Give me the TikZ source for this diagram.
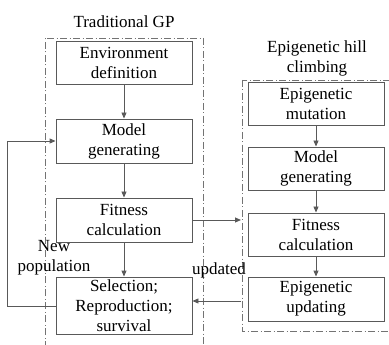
\documentclass[tikz,border=0pt]{standalone}
\usepackage{fontspec}
\setmainfont{Liberation Serif}
\usetikzlibrary{arrows.meta}
\begin{document}
\begin{tikzpicture}[x=1pt,y=-1pt,
  box/.style={draw=black!65,line width=0.9pt,minimum width=136pt,inner sep=0pt,align=center,font=\fontsize{17}{20}\selectfont},
  lbl/.style={align=center,inner sep=0pt,font=\fontsize{17}{20}\selectfont},
  frame/.style={draw=black!55,line width=0.7pt,dash pattern=on 7pt off 2.5pt on 1pt off 2.5pt},
  conn/.style={draw=black!65,line width=0.9pt,-{Triangle[length=6pt,width=5pt]}}]
\useasboundingbox (0,0) rectangle (389,345);
\draw[frame] (45,348) -- (45,38) -- (203,38) -- (203,348);
\draw[frame] (242,80) rectangle (390,331);
\node[box,minimum height=43pt] (env) at (124,62.5) {Environment\\definition};
\node[box,minimum height=44pt] (mod1) at (124,141) {Model\\generating};
\node[box,minimum height=44pt] (fit1) at (124,220) {Fitness\\calculation};
\node[box,minimum height=57pt] (sel) at (124,305.5) {Selection;\\Reproduction;\\survival};
\node[box,minimum height=43pt] (mut) at (316,103.5) {Epigenetic\\mutation};
\node[box,minimum height=43pt] (mod2) at (316,168.5) {Model\\generating};
\node[box,minimum height=43pt] (fit2) at (316,234.5) {Fitness\\calculation};
\node[box,minimum height=44pt] (upd) at (316,299) {Epigenetic\\updating};
\node[lbl] (t1) at (124,22) {Traditional GP};
\node[lbl] (t2) at (317,58) {Epigenetic hill\\climbing};
\node[lbl] (np) at (54,258) {New\\population};
\node[lbl] (ud) at (219,270) {updated};
\coordinate (fl) at (7,306);
\coordinate (fr) at (241,220);
\coordinate (ur) at (241,301);
\draw[conn] (env) -- (mod1);
\draw[conn] (mod1) -- (fit1);
\draw[conn] (fit1) -- (sel);
\draw[conn] (mut) -- (mod2);
\draw[conn] (mod2) -- (fit2);
\draw[conn] (fit2) -- (upd);
\draw[conn] (sel.west |- fl) -- (fl) |- (mod1.west);
\draw[conn] (fit1.east) -- (fr);
\draw[conn] (ur) -- (sel.east |- ur);
\end{tikzpicture}
\end{document}
